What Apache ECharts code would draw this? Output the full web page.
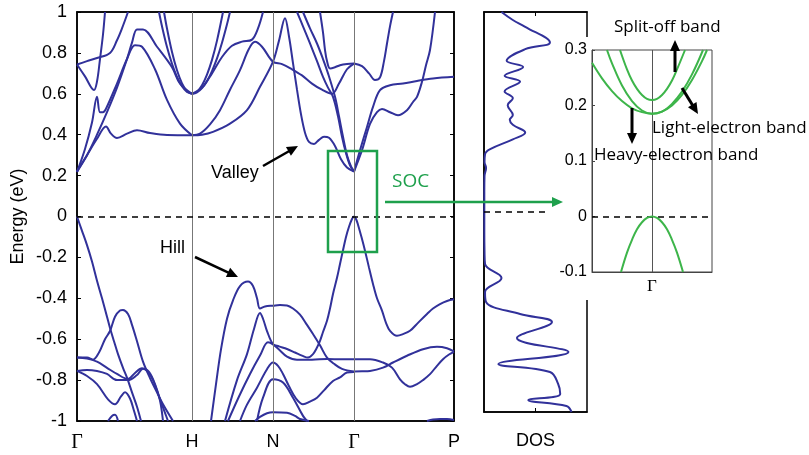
<!DOCTYPE html>
<html><head><meta charset="utf-8">
<script src="https://cdn.jsdelivr.net/npm/echarts@6/dist/echarts.min.js"></script>
<style>html,body{margin:0;padding:0;background:#fff}#c{width:809px;height:455px}</style>
</head><body><div id="c"></div>
<script>
// ---- k-path ticks ----
const kTicks = [0, 115, 196, 277, 377];
const kLabels = ['Γ', 'H', 'N', 'Γ', 'P'];
const kSym = [115, 196, 277];

// ---- conduction bands [k, E(eV)] ----
const cGH1 = [[0,0.218],[5,0.26],[10,0.30],[20,0.38],[29,0.44],[34,0.405],[40,0.384],[50,0.405],[60,0.422],[73,0.408],[90,0.398],[115,0.397]];
const cGH2 = [[0,0.218],[8,0.33],[15,0.46],[20,0.585],[23,0.51],[26,0.51],[29,0.527],[40,0.65],[50,0.77],[58,0.838],[65,0.83],[78,0.72],[90,0.57],[103,0.454],[115,0.397]];
const cGH3 = [[0,0.22],[10,0.30],[20,0.40],[30,0.51],[40,0.63],[50,0.77],[55,0.85],[60,0.915],[66,0.915],[80,0.83],[95,0.73],[103,0.65],[115,0.6]];
const cGH4 = [[0,0.743],[8,0.685],[17,0.618],[20,0.66],[23,0.77],[26,0.89],[28,1.0]];
const cGH5 = [[0,0.743],[10,0.76],[20,0.775],[33,0.80],[40,0.862],[45,0.92],[51,1.0]];
const cHl1 = [[82,1.0],[85,0.93],[90,0.829],[95,0.747],[100,0.683],[105,0.637],[110,0.609],[115,0.6]];
const cHl2 = [[87,1.0],[90,0.919],[95,0.804],[100,0.715],[105,0.651],[110,0.613],[115,0.6]];
const cHr1 = [[115,0.6],[120,0.61],[125,0.642],[130,0.694],[135,0.766],[140,0.86],[146,1.0]];
const cHr2 = [[115,0.6],[120,0.607],[125,0.628],[130,0.662],[135,0.711],[140,0.773],[145,0.85],[150,0.94],[153,1.0]];
const cHN1 = [[115,0.6],[125,0.63],[135,0.70],[145,0.78],[155,0.835],[165,0.855],[175,0.865],[181,0.92],[186,1.0]];
const cHN2 = [[115,0.397],[123,0.405],[133,0.45],[143,0.52],[153,0.62],[163,0.716],[172,0.82],[178,0.854],[185,0.83],[196,0.757],[205,0.745],[215,0.72],[225,0.69],[235,0.65],[245,0.62],[255,0.60],[262,0.65],[270,0.72],[277,0.748]];
const cValley = [[115,0.397],[125,0.40],[136,0.414],[153,0.454],[170,0.52],[183,0.634],[196,0.757],[202,0.86],[208,0.97],[212,0.88],[216,0.75],[220,0.62],[224,0.50],[228,0.41],[232,0.365],[237,0.355],[242,0.375],[247,0.39],[252,0.385],[258,0.345],[264,0.28],[270,0.24],[277,0.22]];
const cNG1 = [[220,1.0],[226,0.93],[233,0.846],[240,0.76],[246,0.683],[251,0.63],[256,0.585],[261,0.49],[265,0.39],[269,0.31],[273,0.25],[277,0.22]];
const cNG2 = [[226,1.0],[233,0.92],[240,0.846],[246,0.77],[251,0.70],[258,0.585],[262,0.49],[266,0.39],[270,0.30],[274,0.245],[277,0.22]];
const cNG3 = [[243,1.0],[246,0.90],[248,0.814],[250,0.76],[253,0.724],[258,0.73],[263,0.74],[270,0.746],[277,0.748]];
const cGP1 = [[277,0.748],[285,0.735],[292,0.70],[298,0.667],[303,0.68],[307,0.76],[310,0.846],[313,0.93],[316,1.0]];
const cGP2 = [[277,0.22],[283,0.324],[290,0.438],[296,0.536],[303,0.618],[313,0.642],[326,0.65],[340,0.663],[356,0.675],[377,0.683]];
const cGP3 = [[277,0.22],[285,0.324],[293,0.453],[300,0.51],[305,0.526],[313,0.51],[321,0.495],[330,0.52],[336,0.56],[340,0.585],[345,0.659],[349,0.74],[353,0.814],[358,1.0]];

// ---- valence bands ----
const vGH1 = [[0,0],[5,-0.07],[10,-0.14],[15,-0.22],[20,-0.314],[25,-0.40],[30,-0.49],[33,-0.545],[37,-0.61],[41,-0.673],[46,-0.74],[50,-0.788],[55,-0.86],[60,-0.93],[64,-1.0]];
const vGH2 = [[0,-0.69],[10,-0.69],[16,-0.70],[22,-0.665],[28,-0.60],[33,-0.56],[38,-0.49],[43,-0.46],[46,-0.457],[51,-0.477],[55,-0.53],[60,-0.61],[66,-0.71],[73,-0.79],[80,-0.86],[86,-0.918],[96,-1.0]];
const vGH3 = [[0,-0.69],[10,-0.695],[20,-0.71],[30,-0.74],[40,-0.77],[51,-0.795],[58,-0.765],[65,-0.742],[70,-0.755],[76,-0.80],[82,-0.88],[88,-0.96],[91,-1.0]];
const vGH4 = [[0,-0.755],[10,-0.78],[20,-0.82],[31,-0.894],[38,-0.918],[44,-0.88],[48,-0.86],[53,-0.89],[57,-0.95],[60,-1.0]];
const vGH5 = [[0,-0.755],[10,-0.75],[20,-0.755],[30,-0.77],[40,-0.80],[51,-0.80],[60,-0.775],[66,-0.745],[72,-0.76],[78,-0.82],[83,-0.90],[86,-1.0]];
const vGH6 = [[31,-1.0],[35,-0.975],[38,-0.97],[41,-1.0]];
const vHill = [[134,-1.0],[139,-0.82],[144,-0.65],[150,-0.50],[156,-0.41],[163,-0.34],[171,-0.318],[176,-0.34],[180,-0.40],[183,-0.45],[188,-0.44],[196,-0.436],[203,-0.433],[210,-0.435],[216,-0.45],[223,-0.48],[230,-0.53],[236,-0.575],[243,-0.63],[250,-0.69],[257,-0.72],[265,-0.745],[277,-0.758]];
const vTop = [[148,-1.0],[160,-0.80],[170,-0.673],[177,-0.55],[183,-0.472],[186,-0.50],[190,-0.56],[196,-0.624],[202,-0.635],[210,-0.648],[218,-0.665],[225,-0.68],[231,-0.69],[236,-0.673],[239,-0.65],[243,-0.608],[246,-0.565],[250,-0.51],[253,-0.45],[256,-0.379],[260,-0.30],[263,-0.232],[266,-0.165],[269,-0.10],[272,-0.05],[275,-0.012],[277,0],[279,-0.012],[281,-0.04],[285,-0.11],[288,-0.167],[292,-0.25],[296,-0.33],[300,-0.40],[305,-0.46],[309,-0.52],[313,-0.559],[320,-0.583],[326,-0.575],[333,-0.559],[341,-0.52],[350,-0.477],[356,-0.45],[363,-0.428],[370,-0.413],[377,-0.405]];
const vHN3 = [[151,-1.0],[162,-0.88],[173,-0.77],[183,-0.68],[191,-0.615],[196,-0.625],[203,-0.655],[210,-0.685],[220,-0.70],[235,-0.70],[250,-0.697],[265,-0.698],[277,-0.698]];
const vHN4 = [[163,-1.0],[170,-0.92],[180,-0.837],[190,-0.747],[196,-0.714],[201,-0.73],[206,-0.77],[212,-0.83],[219,-0.89],[226,-0.918],[233,-0.905],[240,-0.886],[247,-0.85],[256,-0.804],[263,-0.787],[270,-0.763],[277,-0.76]];
const vHN5 = [[180,-1.0],[186,-0.886],[196,-0.796],[206,-0.812],[216,-0.886],[226,-0.975],[230,-1.0]];
const vHN6 = [[178,-1.0],[183,-0.98],[190,-0.962],[196,-0.957],[210,-0.96],[218,-0.975],[223,-0.99],[232,-1.0]];
const vGP1 = [[277,-0.698],[285,-0.698],[293,-0.698],[306,-0.714],[315,-0.739],[323,-0.796],[328,-0.82],[333,-0.833],[340,-0.82],[346,-0.80],[353,-0.771],[360,-0.73],[366,-0.698],[372,-0.675],[377,-0.662]];
const vGP2 = [[277,-0.758],[285,-0.757],[293,-0.755],[306,-0.739],[316,-0.714],[330,-0.681],[346,-0.649],[360,-0.637],[370,-0.644],[377,-0.66]];
const vGP3 = [[350,-1.0],[356,-0.993],[363,-0.99],[370,-0.99],[377,-0.995]];

// ---- DOS ----
const dosE = [1.0,0.96,0.926,0.848,0.814,0.756,0.725,0.681,0.652,0.603,0.569,0.534,0.485,0.461,0.436,0.397,0.363,0.314,0.289,0.25,0.22,0.18,0.1,0,-0.1,-0.2,-0.26,-0.33,-0.40,-0.45,-0.51,-0.55,-0.63,-0.70,-0.76,-0.80,-0.86,-0.91,-0.94,-0.97,-1.0];
const dosV = [0.17,0.28,0.40,0.64,0.40,0.22,0.38,0.20,0.35,0.20,0.28,0.23,0.28,0.25,0.28,0.40,0.28,0.06,0.01,0.005,0.02,0.005,0.003,0.003,0.003,0.005,0.01,0.17,0.01,0.02,0.35,0.66,0.32,0.82,0.14,0.64,0.72,0.74,0.43,0.80,0.85];

// ---- SOC inset bands [k offset, E] ----
const insVB = [[-31,-0.1],[-25,-0.065],[-20,-0.042],[-15,-0.023],[-10,-0.0104],[-5,-0.0026],[0,0],[5,-0.0026],[10,-0.0104],[15,-0.023],[20,-0.042],[25,-0.065],[31,-0.1]];
const insHeavy = [[-60,0.277],[-50,0.249],[-40,0.226],[-30,0.208],[-20,0.195],[-10,0.188],[0,0.185],[10,0.189],[20,0.2],[30,0.219],[40,0.246],[50,0.28],[55,0.3]];
const insLight = [[-45,0.3],[-40,0.276],[-30,0.236],[-20,0.208],[-10,0.191],[0,0.185],[10,0.189],[20,0.203],[30,0.225],[40,0.256],[51,0.3]];
const insSplit = [[-32,0.3],[-25,0.265],[-20,0.245],[-15,0.23],[-10,0.219],[-5,0.212],[0,0.21],[5,0.212],[10,0.219],[15,0.23],[20,0.245],[25,0.265],[33,0.3]];

const bands = [cGH1,cGH2,cGH3,cGH4,cGH5,cHl1,cHl2,cHr1,cHr2,cHN1,cHN2,cValley,cNG1,cNG2,cNG3,cGP1,cGP2,cGP3,
  vGH1,vGH2,vGH3,vGH4,vGH5,vGH6,vHill,vTop,vHN3,vHN4,vHN5,vHN6,vGP1,vGP2,vGP3];
const insBands = [insVB, insHeavy, insLight, insSplit];

const BLUE = '#31319a', GREEN = '#1ea04c', LGREEN = '#3db54a';
const SANS = 'Liberation Sans';
const DASH = [6,5];

const series = [];
series.push({type:'line', xAxisIndex:0, yAxisIndex:0, data:[], silent:true,
  markLine:{symbol:'none', silent:true, animation:false, label:{show:false},
    data:kSym.map(v=>({xAxis:v, lineStyle:{color:'#777', width:1, type:'solid'}}))}});
bands.forEach(b => series.push({type:'line', xAxisIndex:0, yAxisIndex:0, data:b, showSymbol:false, symbol:'none',
  smooth:0.35, silent:true, lineStyle:{color:BLUE, width:2}, z:3}));
series.push({type:'line', xAxisIndex:0, yAxisIndex:0, data:[], silent:true, z:4,
  markLine:{symbol:'none', silent:true, animation:false, label:{show:false},
    data:[{yAxis:0, lineStyle:{color:'#000', width:1.6, type:DASH}}]}});
series.push({type:'line', xAxisIndex:1, yAxisIndex:2, data:dosE.map((e,i)=>[dosV[i],e]), showSymbol:false, symbol:'none',
  smooth:0.4, silent:true, lineStyle:{color:BLUE, width:2},
  markLine:{symbol:'none', silent:true, animation:false, label:{show:false},
    data:[[{coord:[0,0], lineStyle:{color:'#000', width:1.6, type:DASH}},{coord:[0.64,0]}]]}});
series.push({type:'line', xAxisIndex:2, yAxisIndex:3, data:[], silent:true, z:8,
  markLine:{symbol:'none', silent:true, animation:false, label:{show:false}, z:8,
    data:[{xAxis:0, lineStyle:{color:'#555', width:1, type:'solid'}}, {yAxis:0, lineStyle:{color:'#000', width:1.6, type:DASH}}]}});
insBands.forEach(b => series.push({type:'line', xAxisIndex:2, yAxisIndex:3, data:b, showSymbol:false, symbol:'none',
  smooth:0.4, silent:true, z:9, lineStyle:{color:LGREEN, width:2}}));

function arrow(x1,y1,x2,y2,color,w,hl,hw){
  const dx=x2-x1, dy=y2-y1, L=Math.hypot(dx,dy), ux=dx/L, uy=dy/L;
  const bx=x2-ux*hl, by=y2-uy*hl;
  return [{type:'line', z:20, shape:{x1,y1,x2:bx+ux*1,y2:by+uy*1}, style:{stroke:color, lineWidth:w}},
          {type:'polygon', z:20, shape:{points:[[x2,y2],[bx-uy*hw,by+ux*hw],[bx+uy*hw,by-ux*hw]]}, style:{fill:color}}];
}
function txt(x,y,s,font,color){ return {type:'text', z:20, x, y, style:{text:s, font, fill:color||'#000', align:'left', verticalAlign:'middle'}}; }

const graphic = [
  {type:'rect', z:5, shape:{x:556, y:37, width:160, height:263}, style:{fill:'#fff'}},
  {type:'rect', z:20, shape:{x:328, y:151, width:49, height:101}, style:{fill:'none', stroke:GREEN, lineWidth:2.5}},
  ...arrow(385,202,563,202,GREEN,2.5,11,5),
  txt(392,182,'SOC','19px "Open Sans"',GREEN),
  txt(211,173,'Valley','18px '+SANS),
  ...arrow(263,166,298,146,'#000',2.5,11,5),
  txt(160,248,'Hill','18px '+SANS),
  ...arrow(195,257,238,277,'#000',2.5,11,5),
  txt(614,27,'Split-off band','17px "Open Sans"'),
  ...arrow(675,72,675,40,'#000',3,11,5),
  txt(652,128,'Light-electron band','17px "Open Sans"'),
  ...arrow(682,88,698,114,'#000',3,11,5),
  txt(594,155,'Heavy-electron band','17px "Open Sans"'),
  ...arrow(632,108,632,144,'#000',3,11,5)
];

const chart = echarts.init(document.getElementById('c'), null, {renderer:'canvas'});
chart.setOption({
  animation:false,
  backgroundColor:'#fff',
  grid:[
    {left:77, top:12, width:377, height:409, show:true, borderColor:'#000', borderWidth:1.5, backgroundColor:'transparent'},
    {left:484, top:12, width:103, height:409, show:true, borderColor:'#000', borderWidth:1.5, backgroundColor:'transparent'},
    {left:592, top:50, width:120, height:222, show:true, borderColor:'#444', borderWidth:1, backgroundColor:'#fff', z:6}
  ],
  xAxis:[
    {gridIndex:0, type:'value', min:0, max:377, splitLine:{show:false},
     axisLine:{show:true, onZero:false, lineStyle:{color:'#000', width:1.5}},
     axisTick:{show:true, inside:true, length:4, customValues:kSym, lineStyle:{color:'#000'}},
     axisLabel:{customValues:kTicks, margin:12, color:'#000', fontFamily:SANS, fontSize:18,
       formatter:v=>{const s=kLabels[kTicks.indexOf(v)]; return s==='Γ' ? '{g|Γ}' : s;},
       rich:{g:{fontFamily:'Liberation Serif', fontSize:20, color:'#000'}}}},
    {gridIndex:0, type:'value', position:'top', min:0, max:377, splitLine:{show:false},
     axisLine:{show:true, onZero:false, lineStyle:{color:'#000', width:1.5}},
     axisTick:{show:true, inside:true, length:4, customValues:kSym, lineStyle:{color:'#000'}},
     axisLabel:{show:false}},
    {gridIndex:1, type:'value', min:0, max:1, splitLine:{show:false},
     axisLine:{show:true, onZero:false, lineStyle:{color:'#000', width:1.5}},
     axisTick:{show:true, inside:true, length:4, customValues:[0.5], lineStyle:{color:'#000'}},
     axisLabel:{show:false},
     name:'DOS', nameLocation:'middle', nameGap:20, nameTextStyle:{color:'#000', fontFamily:SANS, fontSize:18}},
    {gridIndex:1, type:'value', position:'top', min:0, max:1, splitLine:{show:false},
     axisLine:{show:true, onZero:false, lineStyle:{color:'#000', width:1.5}},
     axisTick:{show:true, inside:true, length:4, customValues:[0.5], lineStyle:{color:'#000'}},
     axisLabel:{show:false}},
    {gridIndex:2, type:'value', min:-60, max:60, splitLine:{show:false}, z:7,
     axisLine:{show:true, onZero:false, lineStyle:{color:'#444', width:1}},
     axisTick:{show:false},
     axisLabel:{customValues:[0], margin:6, formatter:()=>'Γ', color:'#000', fontFamily:'Liberation Serif', fontSize:17}}
  ],
  yAxis:[
    {gridIndex:0, type:'value', min:-1, max:1, interval:0.2, splitLine:{show:false},
     axisLine:{show:true, onZero:false, lineStyle:{color:'#000', width:1.5}},
     axisTick:{show:true, inside:true, length:4, lineStyle:{color:'#000'}},
     axisLabel:{color:'#000', fontFamily:SANS, fontSize:18, margin:10},
     name:'Energy (eV)', nameLocation:'middle', nameGap:50, nameTextStyle:{color:'#000', fontFamily:SANS, fontSize:18}},
    {gridIndex:0, type:'value', position:'right', min:-1, max:1, interval:0.2, splitLine:{show:false},
     axisLine:{show:true, onZero:false, lineStyle:{color:'#000', width:1.5}},
     axisTick:{show:true, inside:true, length:4, lineStyle:{color:'#000'}}, axisLabel:{show:false}},
    {gridIndex:1, type:'value', min:-1, max:1, splitLine:{show:false},
     axisLine:{show:true, onZero:false, lineStyle:{color:'#000', width:1.5}}, axisTick:{show:false}, axisLabel:{show:false}},
    {gridIndex:2, type:'value', min:-0.1, max:0.3, interval:0.1, splitLine:{show:false}, z:7,
     axisLine:{show:true, onZero:false, lineStyle:{color:'#444', width:1}},
     axisTick:{show:true, inside:true, length:3, lineStyle:{color:'#444'}},
     axisLabel:{color:'#000', fontFamily:SANS, fontSize:16, margin:5}}
  ],
  series: series.map(s => {
    // map logical axis indices: main x=0, DOS x=2, inset x=4
    const xm = {0:0, 1:2, 2:4}; return Object.assign({}, s, {xAxisIndex: xm[s.xAxisIndex]});
  }),
  graphic
});
</script></body></html>
